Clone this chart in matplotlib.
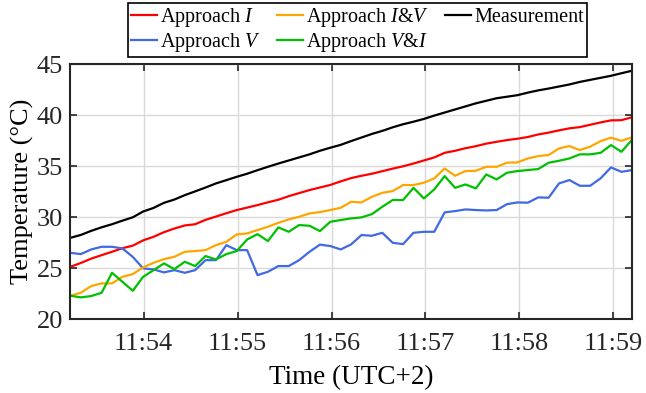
import numpy as np
import matplotlib
matplotlib.use("Agg")
import matplotlib.pyplot as plt
import matplotlib.dates as mdates

# sampling: first sample 11:53:13.2, one sample every ~6.64 s
t_start = np.datetime64("2021-01-01T11:53:13.200")
t_step_ms = 6640
n_pts = 55

# temperatures (°C)
meas = [27.97, 28.25, 28.65, 29.0, 29.3, 29.65, 29.98, 30.55, 30.9, 31.4,
        31.72, 32.15, 32.52, 32.9, 33.3, 33.62, 33.95, 34.25, 34.6, 34.93,
        35.25, 35.55, 35.85, 36.15, 36.5, 36.8, 37.08, 37.45, 37.8, 38.15,
        38.45, 38.8, 39.1, 39.35, 39.62, 39.95, 40.25, 40.55, 40.85, 41.15,
        41.4, 41.65, 41.8, 41.95, 42.2, 42.42, 42.6, 42.8, 43.0, 43.25,
        43.45, 43.65, 43.85, 44.1, 44.34]

appr_i = [25.13, 25.5, 25.93, 26.27, 26.6, 26.95, 27.2, 27.72, 28.07, 28.52,
          28.88, 29.18, 29.3, 29.73, 30.05, 30.38, 30.69, 30.93, 31.18, 31.45,
          31.7, 32.05, 32.35, 32.65, 32.9, 33.15, 33.5, 33.82, 34.05, 34.25,
          34.5, 34.75, 34.98, 35.25, 35.55, 35.85, 36.3, 36.5, 36.75, 36.95,
          37.2, 37.38, 37.55, 37.68, 37.85, 38.1, 38.28, 38.5, 38.7, 38.82,
          39.05, 39.28, 39.48, 39.5, 39.78]

appr_v = [26.5, 26.37, 26.83, 27.09, 27.09, 26.93, 26.1, 24.97, 24.87, 24.58,
          24.8, 24.54, 24.8, 25.78, 25.78, 27.25, 26.76, 26.76, 24.31, 24.64,
          25.2, 25.2, 25.78, 26.6, 27.3, 27.16, 26.83, 27.32, 28.24, 28.17,
          28.46, 27.48, 27.35, 28.46, 28.56, 28.56, 30.46, 30.59, 30.75, 30.69,
          30.65, 30.69, 31.27, 31.44, 31.41, 31.93, 31.9, 33.3, 33.63, 33.07,
          33.07, 33.8, 34.87, 34.44, 34.6]

appr_iv = [22.29, 22.58, 23.24, 23.5, 23.5, 24.15, 24.41, 25.07, 25.52, 25.88,
           26.11, 26.6, 26.67, 26.76, 27.25, 27.58, 28.3, 28.4, 28.73, 29.05,
           29.44, 29.77, 30.03, 30.36, 30.49, 30.69, 30.91, 31.5, 31.44, 31.99,
           32.38, 32.55, 33.14, 33.14, 33.37, 33.79, 34.77, 34.05, 34.51, 34.54,
           34.93, 34.93, 35.33, 35.36, 35.75, 35.98, 36.08, 36.73, 36.96, 36.57,
           36.9, 37.45, 37.78, 37.48, 37.81]

appr_vi = [22.29, 22.13, 22.26, 22.58, 24.54, 23.66, 22.78, 24.15, 24.8, 25.46,
           24.9, 25.62, 25.2, 26.18, 25.85, 26.37, 26.67, 27.81, 28.33, 27.65,
           28.99, 28.56, 29.22, 29.15, 28.63, 29.54, 29.71, 29.87, 29.97, 30.29,
           31.01, 31.67, 31.67, 32.87, 31.83, 32.71, 34.02, 32.87, 33.2, 32.81,
           34.18, 33.69, 34.35, 34.51, 34.61, 34.71, 35.33, 35.52, 35.75, 36.15,
           36.15, 36.3, 37.06, 36.4, 37.55]

yticks = [20, 25, 30, 35, 40, 45]

times = t_start + np.arange(n_pts) * np.timedelta64(t_step_ms, "ms")
times = times.astype("datetime64[ms]").astype(object)

plt.rcParams["font.family"] = ["Liberation Serif", "DejaVu Serif"]
plt.rcParams["mathtext.fontset"] = "custom"
plt.rcParams["mathtext.rm"] = "Liberation Serif"
plt.rcParams["mathtext.it"] = "Liberation Serif:italic"

fig = plt.figure(figsize=(6.46, 3.93), dpi=100)
ax = fig.add_axes([0.109, 0.188, 0.869, 0.649])

lw = 1.6
ax.plot(times, appr_i, color="#ff0000", lw=lw, label=r"Approach $I$")
ax.plot(times, appr_v, color="#4169e1", lw=lw, label=r"Approach $V$")
ax.plot(times, appr_iv, color="#ffa500", lw=lw, label=r"Approach $I$&$V$")
ax.plot(times, appr_vi, color="#00c000", lw=lw, label=r"Approach $V$&$I$")
ax.plot(times, meas, color="#000000", lw=lw, label="Measurement")

ax.set_xlim(times[0], times[-1])
ax.set_ylim(20, 45)
ax.set_yticks(yticks)
ax.xaxis.set_major_locator(mdates.MinuteLocator())
ax.xaxis.set_major_formatter(mdates.DateFormatter("%H:%M"))

ax.grid(True, color="#d9d9d9", lw=1.0)
ax.set_axisbelow(True)
ax.tick_params(direction="in", length=5, width=1.2, top=True, right=True,
               labelsize=19, colors="#262626")
ax.tick_params(axis="x", pad=10)
ax.tick_params(axis="y", pad=5.5)
for s in ax.spines.values():
    s.set_linewidth(1.5)
    s.set_color("#262626")

ax.set_xlabel("Time (UTC+2)", fontsize=19.5, labelpad=7)
ax.set_ylabel("Temperature (°C)", fontsize=19, labelpad=2)

leg = fig.legend(loc="upper center", bbox_to_anchor=(0.553, 0.992), ncol=3,
                 fontsize=14.5, frameon=True, fancybox=False, framealpha=1,
                 edgecolor="#000000", handlelength=1.3, handletextpad=0.15,
                 columnspacing=0.8, borderpad=0.15, labelspacing=0.1,
                 borderaxespad=0)
leg.get_frame().set_linewidth(1.2)

fig.savefig("out.png", dpi=100)
